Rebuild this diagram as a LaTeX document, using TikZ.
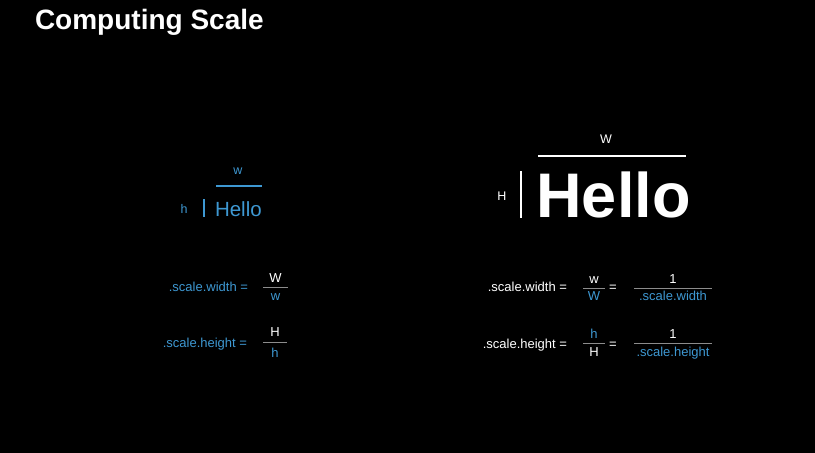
\documentclass[tikz,border=0pt]{standalone}
\usepackage{fontspec}
\setmainfont{Liberation Sans}
\definecolor{bl}{RGB}{62,152,210}
\definecolor{fl}{RGB}{140,140,140}
\begin{document}
\begin{tikzpicture}[x=1pt,y=-1pt,
  every node/.style={inner sep=0pt,outer sep=0pt},
  lbl/.style={font=\fontsize{12.5}{14}\selectfont,anchor=base},
  frm/.style={font=\fontsize{13}{15}\selectfont,anchor=base},
  lhs/.style={font=\fontsize{13}{15}\selectfont,anchor=base east},
  fracline/.style={draw=fl,line width=1pt},
  bar/.style={line width=2pt}]
\fill[black] (0,0) rectangle (815,453);
\useasboundingbox (0,0) rectangle (815,453);
% title
\node[anchor=base west,text=white,font=\fontsize{28}{31}\selectfont\bfseries] (title) at (35,29) {Computing Scale};
% left small Hello
\node[lbl,text=bl] (sw) at (238,174) {w};
\coordinate (swa) at (216,186); \coordinate (swb) at (262,186);
\draw[bar,bl] (swa) -- (swb);
\node[lbl,text=bl] (sh) at (184,213) {h};
\coordinate (sha) at (204,199); \coordinate (shb) at (204,217);
\draw[bar,bl] (sha) -- (shb);
\node[anchor=base west,text=bl,font=\fontsize{20.5}{24}\selectfont] (shello) at (215,216) {Hello};
% right big Hello
\node[lbl,text=white] (bw) at (606,143) {W};
\coordinate (bwa) at (538,156); \coordinate (bwb) at (686,156);
\draw[bar,white] (bwa) -- (bwb);
\node[lbl,text=white] (bh) at (502,200) {H};
\coordinate (bha) at (521,171); \coordinate (bhb) at (521,218);
\draw[bar,white] (bha) -- (bhb);
\node[anchor=base west,text=white,font=\fontsize{63}{70}\selectfont\bfseries] (bhello) at (536.5,217) {Hello};
% left formulas
\node[lhs,text=bl] (l1) at (248,291) {.scale.width =};
\node[frm,text=white] (l1n) at (275.5,282) {W};
\node[frm,text=bl] (l1d) at (275.5,300) {w};
\coordinate (l1a) at (263,287.5); \coordinate (l1b) at (288,287.5);
\draw[fracline] (l1a) -- (l1b);
\node[lhs,text=bl] (l2) at (247,347) {.scale.height =};
\node[frm,text=white] (l2n) at (275,336) {H};
\node[frm,text=bl] (l2d) at (275,357) {h};
\coordinate (l2a) at (263,342.5); \coordinate (l2b) at (287,342.5);
\draw[fracline] (l2a) -- (l2b);
% right formulas
\node[lhs,text=white] (r1) at (567,291) {.scale.width =};
\node[frm,text=white] (r1n) at (594,283) {w};
\node[frm,text=bl] (r1d) at (594,300.5) {W};
\coordinate (r1a) at (583,288); \coordinate (r1b) at (605,288);
\draw[fracline] (r1a) -- (r1b);
\node[frm,text=white] (r1e) at (613,291) {=};
\node[frm,text=white] (r1o) at (673,283) {1};
\node[frm,text=bl] (r1s) at (673,300.5) {.scale.width};
\coordinate (r1c) at (634,288); \coordinate (r1d2) at (712,288);
\draw[fracline] (r1c) -- (r1d2);
\node[lhs,text=white] (r2) at (567,348) {.scale.height =};
\node[frm,text=bl] (r2n) at (594,338) {h};
\node[frm,text=white] (r2d) at (594,356.5) {H};
\coordinate (r2a) at (583,343); \coordinate (r2b) at (605,343);
\draw[fracline] (r2a) -- (r2b);
\node[frm,text=white] (r2e) at (613,348) {=};
\node[frm,text=white] (r2o) at (673,338) {1};
\node[frm,text=bl] (r2s) at (673,356.5) {.scale.height};
\coordinate (r2c) at (634,343); \coordinate (r2d2) at (712,343);
\draw[fracline] (r2c) -- (r2d2);
\end{tikzpicture}
\end{document}
